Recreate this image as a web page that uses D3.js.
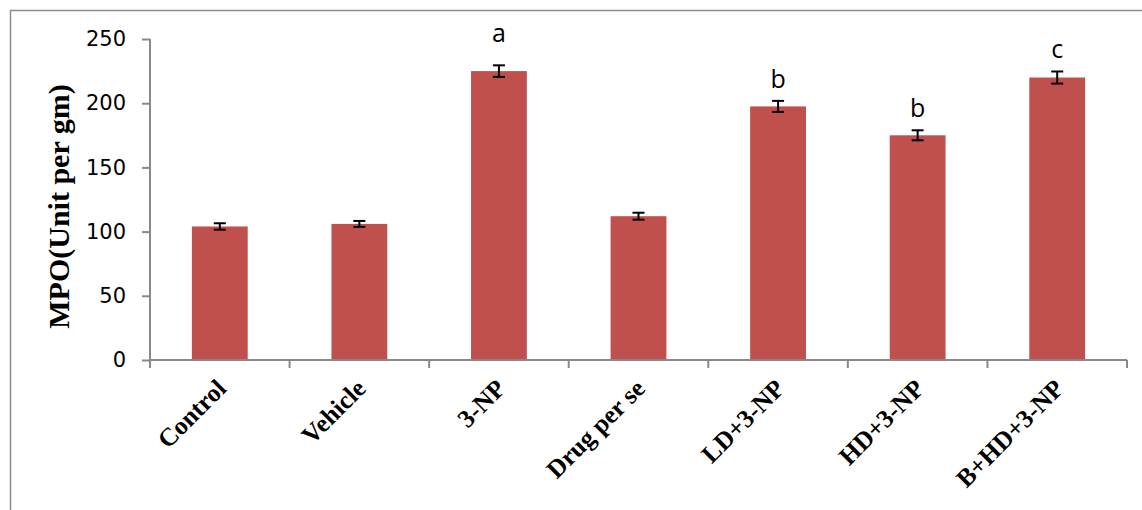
<!DOCTYPE html>
<html><head><meta charset="utf-8">
<script src="https://cdn.jsdelivr.net/npm/d3@7"></script>
<style>body{margin:0;background:#fff}svg{display:block}</style>
</head><body>
<svg id="c" width="1142" height="510"></svg>
<script>
const categories = ["Control","Vehicle","3-NP","Drug per se","LD+3-NP","HD+3-NP","B+HD+3-NP"];
const values = [104, 106, 225, 112, 197.5, 175, 220];
const errors = [2.5, 2.3, 4.5, 2.7, 4.3, 3.9, 4.7];
const sigLetters = ["", "", "a", "", "b", "b", "c"];
const yTicks = [0, 50, 100, 150, 200, 250];
const yLabel = "MPO(Unit per gm)";

(function(){
const svg = d3.select("#c");
const pL = 150, pR = 1127, pT = 39, pB = 360;
const axisColor = "#898989";

// outer frame
svg.append("path").attr("d", "M10.5,510 L10.5,10.5 L1142,10.5")
  .attr("fill","none").attr("stroke","#8c8c8c").attr("stroke-width",1.5);

const x = d3.scaleBand().domain(categories).range([pL, pR]).paddingInner(0.6).paddingOuter(0.3);
const xTick = d3.scaleBand().domain(categories).range([pL, pR]);
const y = d3.scaleLinear().domain([0, 250]).range([pB, pT]);

// bars
svg.selectAll("rect.bar").data(categories).join("rect")
  .attr("class","bar")
  .attr("x", d => x(d)).attr("width", x.bandwidth())
  .attr("y", (d,i) => y(values[i])).attr("height", (d,i) => y(0) - y(values[i]))
  .attr("fill", "#C0504D");

// error bars
const eg = svg.append("g").attr("stroke","#000").attr("stroke-width",2);
categories.forEach((c,i) => {
  const cx = x(c) + x.bandwidth()/2;
  const y1 = y(values[i] + errors[i]), y2 = y(values[i] - errors[i]);
  eg.append("line").attr("x1",cx).attr("x2",cx).attr("y1",y1).attr("y2",y2);
  eg.append("line").attr("x1",cx-6).attr("x2",cx+6).attr("y1",y1).attr("y2",y1);
  eg.append("line").attr("x1",cx-6).attr("x2",cx+6).attr("y1",y2).attr("y2",y2);
});

// significance letters
categories.forEach((c,i) => {
  if (!sigLetters[i]) return;
  const cx = x(c) + x.bandwidth()/2;
  const off = (i === 2) ? 23 : 13;
  svg.append("text").attr("x", cx).attr("y", y(values[i] + errors[i]) - off)
    .attr("text-anchor","middle").attr("font-family","'Open Sans', sans-serif")
    .attr("font-size", 25).attr("fill","#000").text(sigLetters[i]);
});

// y axis
const yAxis = svg.append("g").attr("transform", `translate(${pL},0)`)
  .call(d3.axisLeft(y).tickValues(yTicks).tickSize(8).tickPadding(16).tickFormat(d3.format("d")));
yAxis.select(".domain").attr("stroke", axisColor).attr("stroke-width",2).attr("d", `M0,${pT}V${pB}`);
yAxis.selectAll(".tick line").attr("stroke", axisColor).attr("stroke-width",2);
yAxis.selectAll(".tick text").attr("font-family","'DejaVu Sans', sans-serif").attr("font-size",21).attr("fill","#000");

// x axis
const xAxis = svg.append("g").attr("transform", `translate(0,${pB})`);
xAxis.append("line").attr("x1", pL).attr("x2", pR).attr("stroke", axisColor).attr("stroke-width",2);
const tickPos = categories.map(c => xTick(c)).concat([pR]);
xAxis.selectAll("line.t").data(tickPos).join("line").attr("class","t")
  .attr("x1", d => d).attr("x2", d => d).attr("y1", 0).attr("y2", 8)
  .attr("stroke", axisColor).attr("stroke-width",2);
xAxis.selectAll("text").data(categories).join("text")
  .attr("transform", d => `translate(${x(d) + x.bandwidth()/2 + 8},${30}) rotate(-45)`)
  .attr("text-anchor","end")
  .attr("font-family","'Liberation Serif', 'Times New Roman', serif")
  .attr("font-weight","bold").attr("font-size",25.5).attr("fill","#000")
  .text(d => d);

// y label
svg.append("text").attr("transform", `translate(69,${(pT+pB)/2 + 7}) rotate(-90)`)
  .attr("text-anchor","middle")
  .attr("font-family","'Liberation Serif', 'Times New Roman', serif")
  .attr("font-weight","bold").attr("font-size",30).attr("fill","#000")
  .text(yLabel);
})();
</script>
</body></html>
